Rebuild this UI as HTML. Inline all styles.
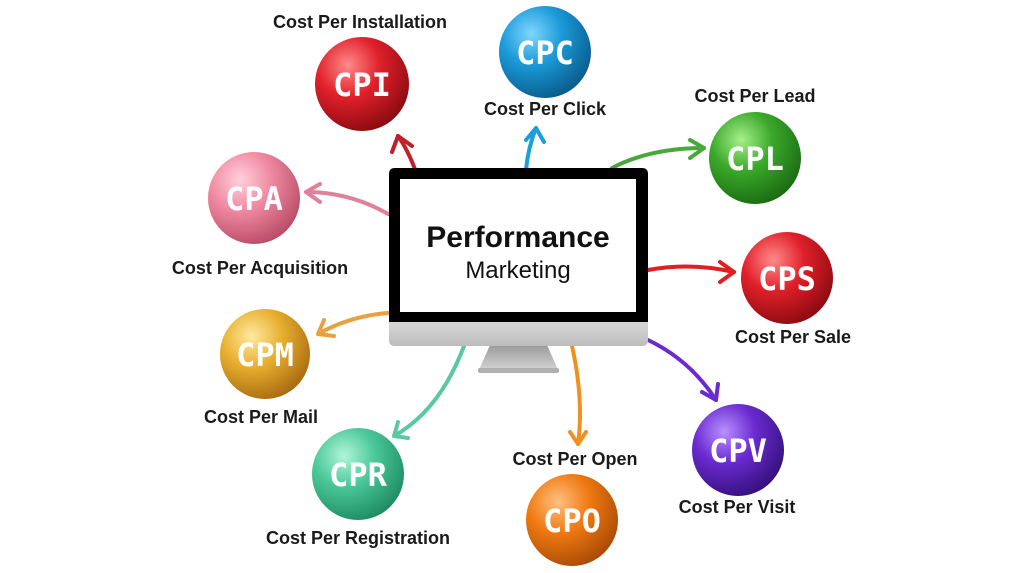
<!DOCTYPE html>
<html><head><meta charset="utf-8"><style>
html,body{margin:0;padding:0;background:#fff;}
body{width:1024px;height:573px;position:relative;overflow:hidden;font-family:"Liberation Sans",sans-serif;}
.lbl{position:absolute;font-weight:bold;font-size:18px;color:#1a1a1a;white-space:nowrap;transform:translateX(-50%);}
</style></head><body>
<svg width="1024" height="573" style="position:absolute;left:0;top:0">
<defs>
<radialGradient id="gR" cx="35%" cy="30%" r="75%"><stop offset="0" stop-color="#ff8a8a"/><stop offset="0.45" stop-color="#e0202a"/><stop offset="1" stop-color="#8a0a10"/></radialGradient>
<radialGradient id="gB" cx="35%" cy="30%" r="75%"><stop offset="0" stop-color="#7fd6ff"/><stop offset="0.45" stop-color="#1a9ad8"/><stop offset="1" stop-color="#0a5a8a"/></radialGradient>
<radialGradient id="gG" cx="35%" cy="30%" r="75%"><stop offset="0" stop-color="#a6f08a"/><stop offset="0.45" stop-color="#3aa82a"/><stop offset="1" stop-color="#1a6a12"/></radialGradient>
<radialGradient id="gP" cx="35%" cy="30%" r="75%"><stop offset="0" stop-color="#ffd0dc"/><stop offset="0.45" stop-color="#ef8aa2"/><stop offset="1" stop-color="#b84a66"/></radialGradient>
<radialGradient id="gY" cx="35%" cy="30%" r="75%"><stop offset="0" stop-color="#ffe9a0"/><stop offset="0.45" stop-color="#e8b030"/><stop offset="1" stop-color="#a86a10"/></radialGradient>
<radialGradient id="gV" cx="35%" cy="30%" r="75%"><stop offset="0" stop-color="#b890ff"/><stop offset="0.45" stop-color="#6a2ad0"/><stop offset="1" stop-color="#34107a"/></radialGradient>
<radialGradient id="gT" cx="35%" cy="30%" r="75%"><stop offset="0" stop-color="#b0f5d8"/><stop offset="0.45" stop-color="#4ac89a"/><stop offset="1" stop-color="#1e8a62"/></radialGradient>
<radialGradient id="gO" cx="35%" cy="30%" r="75%"><stop offset="0" stop-color="#ffc080"/><stop offset="0.45" stop-color="#f07a12"/><stop offset="1" stop-color="#a84a05"/></radialGradient>
<linearGradient id="chin" x1="0" y1="0" x2="0" y2="1"><stop offset="0" stop-color="#e4e4e4"/><stop offset="1" stop-color="#bdbdbd"/></linearGradient>
<linearGradient id="stand" x1="0" y1="0" x2="0" y2="1"><stop offset="0" stop-color="#9a9a9a"/><stop offset="1" stop-color="#d8d8d8"/></linearGradient>
</defs>
<g fill="none" stroke-width="4" stroke-linecap="round" stroke-linejoin="round">
<path d="M416 172 Q408 150 398 136" stroke="#c0202a"/><path d="M392 152 L398 136 L412 146" stroke="#c0202a"/>
<path d="M526 170 Q528 148 536 128" stroke="#1aa0d8"/><path d="M526 140 L536 128 L544 142" stroke="#1aa0d8"/>
<path d="M612 168 Q650 148 704 148" stroke="#4aa83a"/><path d="M690 140 L704 148 L690 158" stroke="#4aa83a"/>
<path d="M388 214 Q350 192 306 192" stroke="#e0809a"/><path d="M320 184 L306 192 L320 202" stroke="#e0809a"/>
<path d="M648 270 Q690 262 734 272" stroke="#e02020"/><path d="M720 262 L734 272 L720 282" stroke="#e02020"/>
<path d="M388 313 Q350 316 318 334" stroke="#eaa040"/><path d="M324 320 L318 334 L334 336" stroke="#eaa040"/>
<path d="M648 340 Q690 360 716 400" stroke="#6a2ad0"/><path d="M702 392 L716 400 L718 384" stroke="#6a2ad0"/>
<path d="M464 346 Q440 410 394 436" stroke="#5ac8a0"/><path d="M398 422 L394 436 L408 438" stroke="#5ac8a0"/>
<path d="M572 346 Q584 400 578 444" stroke="#f09020"/><path d="M570 432 L578 444 L586 432" stroke="#f09020"/>
</g>
<path d="M478 372 L490 345 L547 345 L559 372 Z" fill="url(#stand)"/>
<rect x="478" y="368" width="81" height="5" rx="2" fill="#b0b0b0"/>
<rect x="389" y="310" width="259" height="36" rx="5" fill="url(#chin)"/>
<path d="M389 322 L389 174 Q389 168 395 168 L642 168 Q648 168 648 174 L648 322 Z" fill="#000"/>
<rect x="400" y="179" width="236" height="133" fill="#fff"/>
<text x="518" y="247" text-anchor="middle" font-family="Liberation Sans" font-weight="bold" font-size="30" fill="#111">Performance</text>
<text x="518" y="278" text-anchor="middle" font-family="Liberation Sans" font-size="24" fill="#111">Marketing</text>
<g font-family="DejaVu Sans Mono,monospace" font-weight="bold" font-size="32" fill="#fff" text-anchor="middle">
<circle cx="362" cy="84" r="47" fill="url(#gR)"/><text x="362" y="96">CPI</text>
<circle cx="545" cy="52" r="46" fill="url(#gB)"/><text x="545" y="64">CPC</text>
<circle cx="755" cy="158" r="46" fill="url(#gG)"/><text x="755" y="170">CPL</text>
<circle cx="254" cy="198" r="46" fill="url(#gP)"/><text x="254" y="210">CPA</text>
<circle cx="787" cy="278" r="46" fill="url(#gR)"/><text x="787" y="290">CPS</text>
<circle cx="265" cy="354" r="45" fill="url(#gY)"/><text x="265" y="366">CPM</text>
<circle cx="738" cy="450" r="46" fill="url(#gV)"/><text x="738" y="462">CPV</text>
<circle cx="358" cy="474" r="46" fill="url(#gT)"/><text x="358" y="486">CPR</text>
<circle cx="572" cy="520" r="46" fill="url(#gO)"/><text x="572" y="532">CPO</text>
</g>
</svg>
<div class="lbl" style="left:360px;top:12px">Cost Per Installation</div>
<div class="lbl" style="left:545px;top:99px">Cost Per Click</div>
<div class="lbl" style="left:755px;top:86px">Cost Per Lead</div>
<div class="lbl" style="left:260px;top:258px">Cost Per Acquisition</div>
<div class="lbl" style="left:793px;top:327px">Cost Per Sale</div>
<div class="lbl" style="left:261px;top:407px">Cost Per Mail</div>
<div class="lbl" style="left:737px;top:497px">Cost Per Visit</div>
<div class="lbl" style="left:358px;top:528px">Cost Per Registration</div>
<div class="lbl" style="left:575px;top:449px">Cost Per Open</div>
</body></html>
